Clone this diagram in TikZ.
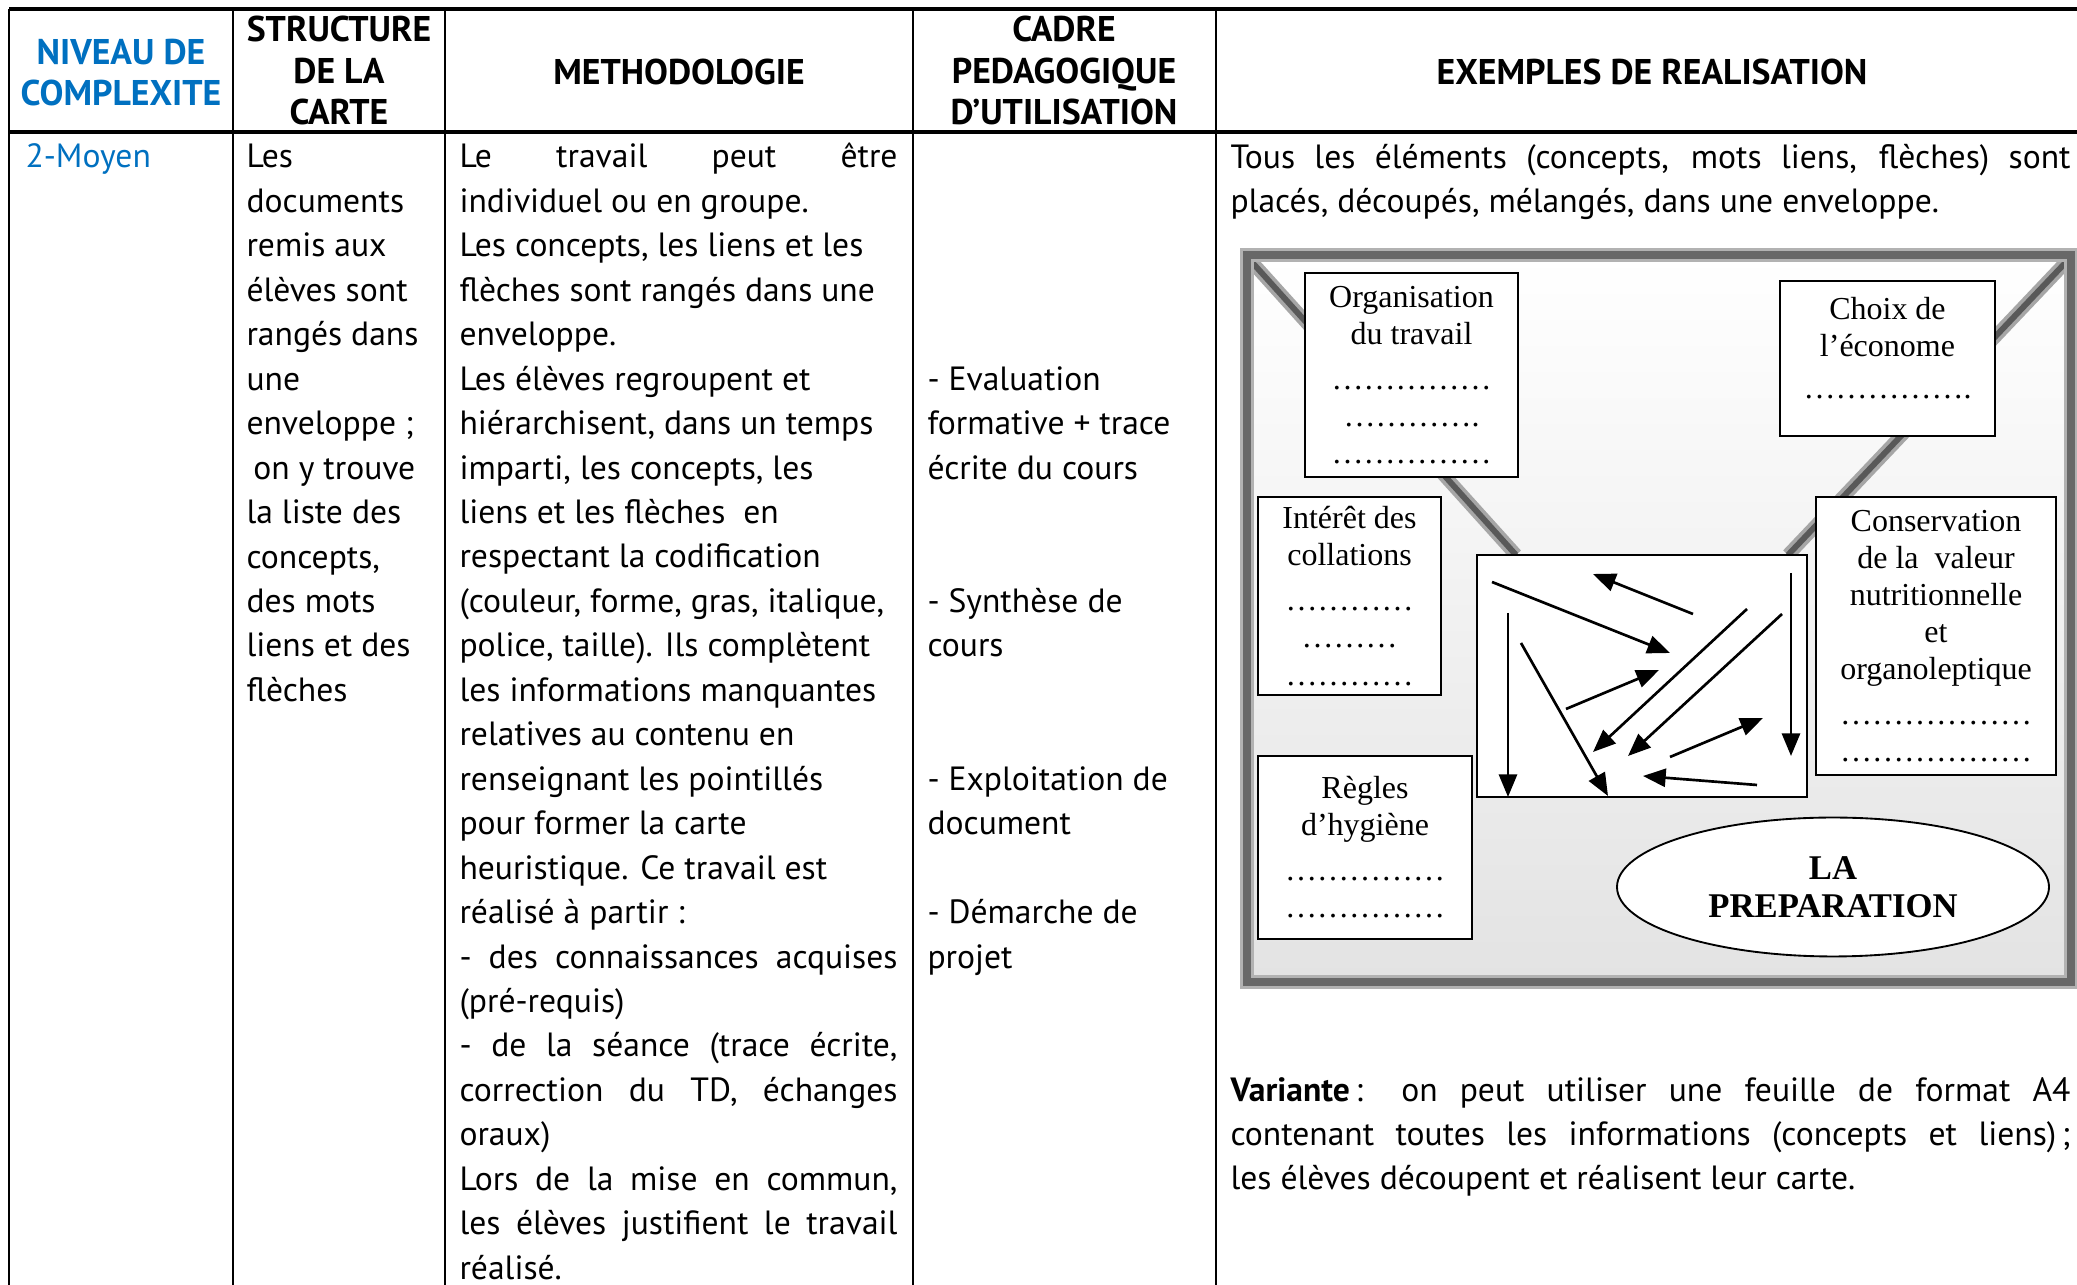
\documentclass[tikz,border=0pt]{standalone}
\usepackage{fontspec}
\setmainfont{PT Sans}
\newfontfamily\cartefont{Liberation Serif}
\usetikzlibrary{arrows.meta,shapes.geometric}
\definecolor{niveau}{RGB}{0,112,192}
\definecolor{cadregris}{RGB}{104,104,104}
\newcommand{\jm}[1]{\makebox[164.25pt][s]{#1}}
\newcommand{\jx}[1]{\makebox[315pt][s]{#1}}

\tikzset{
  entete/.style={font=\fontsize{13.4}{15.56}\selectfont\bfseries, align=center, anchor=base, inner sep=0pt},
  corps/.style={font=\fontsize{12.6}{16.67}\selectfont, align=left, anchor=base west, inner sep=0pt},
  etiquette/.style={draw, line width=0.7pt, fill=white, inner sep=0pt, align=center,
    font=\cartefont\fontsize{12}{13.9}\selectfont},
  fleche/.style={line width=1pt, -{Triangle[length=8.5pt,width=6.8pt]}},
  trait/.style={line width=0.65pt},
}

\begin{document}
\begin{tikzpicture}[x=0.375pt,y=-0.375pt]
\useasboundingbox (0,0) rectangle (2077,1285);

% grille du tableau
\draw[line width=1.2pt] (9,9) -- (2077,9);
\draw[line width=1.2pt] (9,132) -- (2077,132);
\foreach \x in {9,233,445,913,1216}
	\draw[trait] (\x,9) -- (\x,1285);

% en-tetes (ancre sur la derniere ligne)
\node[entete, text=niveau] (niveau) at (121,106) {NIVEAU DE\\COMPLEXITE};
\node[entete] (structure) at (339,125) {STRUCTURE\\DE LA\\CARTE};
\node[entete] (methodo) at (679,85) {METHODOLOGIE};
\node[entete] (cadre) at (1064,125) {CADRE\\PEDAGOGIQUE\\D'UTILISATION};
\node[entete] (exemples) at (1652,85) {EXEMPLES DE REALISATION};

% colonnes
\node[corps, text=niveau] (moyen) at (25,168) {2-Moyen};
\node[corps] (structtxt) at (246,701.4) {Les\\documents\\remis aux\\élèves sont\\rangés dans\\une\\enveloppe ;\\\hspace{2.6pt}on y trouve\\la liste des\\concepts,\\des mots\\liens et des\\flèches};
\node[corps] (methodotxt) at (459,1279.2) {\jm{Le travail peut être}\\individuel ou en groupe.\\Les concepts, les liens et les\\flèches sont rangés dans une\\enveloppe.\\Les élèves regroupent et\\hiérarchisent, dans un temps\\imparti, les concepts, les\\liens et les flèches\ \ en\\respectant la codification\\(couleur, forme, gras, italique,\\police, taille). Ils complètent\\les informations manquantes\\relatives au contenu en\\renseignant les pointillés\\pour former la carte\\heuristique. Ce travail est\\réalisé à partir :\\\jm{- des connaissances acquises}\\(pré-requis)\\\jm{- de la séance (trace écrite,}\\\jm{correction du TD, échanges}\\oraux)\\\jm{Lors de la mise en commun,}\\\jm{les élèves justifient le travail}\\réalisé.};
\node[corps] (cadretxt) at (927,968.1) {- Evaluation\\formative + trace\\écrite du cours\\\mbox{}\\\mbox{}\\- Synthèse de\\cours\\\mbox{}\\\mbox{}\\- Exploitation de\\document\\\mbox{}\\- Démarche de\\projet};
\node[corps] (exemplestxt) at (1230,212.5) {\jx{Tous les éléments (concepts, mots liens, flèches) sont}\\placés, découpés, mélangés, dans une enveloppe.};
\node[corps] (variante) at (1230,1190) {\jx{\textbf{Variante}\,: on peut utiliser une feuille de format A4}\\\jx{contenant toutes les informations (concepts et liens)\,;}\\les élèves découpent et réalisent leur carte.};

% enveloppe
\shade[top color=white, bottom color=black!11] (1247,255) rectangle (2071,982);
\draw[line width=5pt, black!35] (1250,260) -- (1516,555);
\draw[line width=2.2pt, black!65] (1250,260) -- (1516,555);
\draw[line width=5pt, black!35] (2068,260) -- (1788,555);
\draw[line width=2.2pt, black!65] (2068,260) -- (1788,555);
\draw[line width=5.5pt, black!30] (1247,255) rectangle (2071,982);
\draw[line width=3.2pt, cadregris] (1247,255) rectangle (2071,982);

\node[etiquette, minimum width=79.9pt, minimum height=76.5pt] (organisation) at (1411.5,375)
	{Organisation\\du travail\\[3pt]……………\\………….\\……………};
\node[etiquette, minimum width=80.6pt, minimum height=58.1pt] (choix) at (1887.5,358.5)
	{Choix de\\l’économe\\[2pt]…………….\\[-6pt]\mbox{}};
\node[etiquette, minimum width=68.6pt, minimum height=74.3pt] (interet) at (1349.5,596)
	{Intérêt des\\collations\\[3pt]…………\\………\\…………};
\node[etiquette, minimum width=90pt, minimum height=104.3pt] (conservation) at (1936,636)
	{Conservation\\de la\ \ valeur\\nutritionnelle\\et\\organoleptique\\[3pt]………………\\………………};
\node[etiquette, minimum width=80.3pt, minimum height=68.6pt] (regles) at (1365,847.5)
	{Règles\\d’hygiène\\[3pt]……………\\……………};
\node[etiquette, minimum width=123.8pt, minimum height=90.8pt] (fleches) at (1642,676) {};
\node[etiquette, ellipse, minimum width=162pt, minimum height=52.1pt,
	font=\cartefont\fontsize{13}{14.3}\selectfont\bfseries] (preparation) at (1833,887) {LA\\PREPARATION};

\foreach \xa/\ya/\xb/\yb in {1492/582/1670/653, 1693/614/1593/574, 1508/613/1508/797,
	1521/643/1608/796, 1566/709/1659/670, 1747/609/1593/752, 1782/614/1628/756,
	1670/757/1763/718, 1757/785/1643/776, 1791/573/1791/756}
	\draw[fleche] (\xa,\ya) -- (\xb,\yb);
\end{tikzpicture}
\end{document}
